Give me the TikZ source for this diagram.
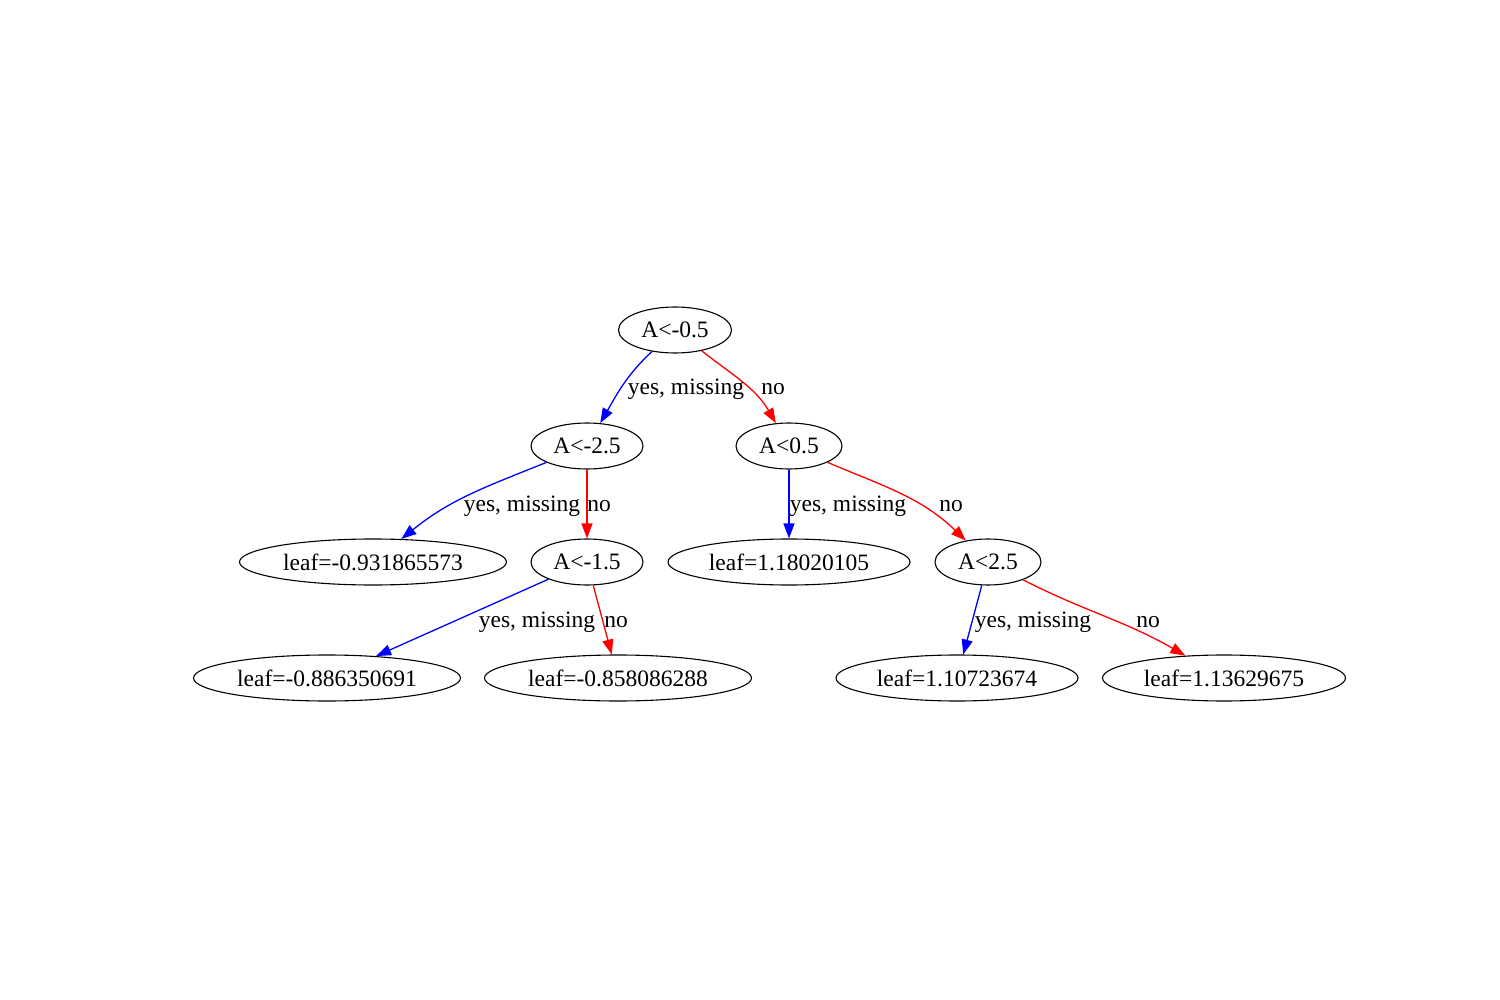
\documentclass[tikz,border=0pt]{standalone}
\usepackage{fontspec}
\setmainfont{Liberation Serif}
\usetikzlibrary{shapes.geometric,arrows.meta}
\begin{document}
\begin{tikzpicture}[x=1pt,y=-1pt,
  tnode/.style={ellipse,draw=black,line width=1.1pt,inner sep=0pt,minimum height=46pt,
    font=\fontsize{23.5}{28}\selectfont},
  lbl/.style={inner sep=0pt,font=\fontsize{23.5}{28}\selectfont},
  yesedge/.style={draw={rgb,255:red,0;green,0;blue,255},line width=1.3pt,
    -{Triangle[length=15pt,width=11pt]}},
  noedge/.style={draw={rgb,255:red,255;green,0;blue,0},line width=1.3pt,
    -{Triangle[length=15pt,width=11pt]}}]
\useasboundingbox (0,0) rectangle (1500,1000);
\fill[white] (0,0) rectangle (1500,1000);
% nodes
\node[tnode,minimum width=113pt] (root) at (675,330) {A<-0.5};
\node[tnode,minimum width=112pt] (a25) at (587,446) {A<-2.5};
\node[tnode,minimum width=106pt] (a05) at (789,446) {A<0.5};
\node[tnode,minimum width=267pt] (l1) at (373,562) {leaf=-0.931865573};
\node[tnode,minimum width=112pt] (a15) at (587,562) {A<-1.5};
\node[tnode,minimum width=242pt] (l2) at (789,562) {leaf=1.18020105};
\node[tnode,minimum width=106pt] (b25) at (988,562) {A<2.5};
\node[tnode,minimum width=267pt] (l3) at (327,678) {leaf=-0.886350691};
\node[tnode,minimum width=267pt] (l4) at (618,678) {leaf=-0.858086288};
\node[tnode,minimum width=242pt] (l5) at (957,678) {leaf=1.10723674};
\node[tnode,minimum width=243pt] (l6) at (1224,678) {leaf=1.13629675};
% edges
\draw[yesedge] (root) to[out=-137,in=60] (a25);
\draw[noedge] (root) to[out=-38,in=120] (a05);
\draw[yesedge] (a25) to[out=-158,in=39] (l1);
\draw[noedge] (a25) -- (a15);
\draw[yesedge] (a05) -- (l2);
\draw[noedge] (a05) to[out=-23,in=136] (b25);
\draw[yesedge] (a15) -- (l3);
\draw[noedge] (a15) -- (l4);
\draw[yesedge] (b25) -- (l5);
\draw[noedge] (b25) to[out=-27,in=150] (l6);
% labels
\node[lbl] (t1) at (686,389) {yes, missing};
\node[lbl] (t2) at (773,389) {no};
\node[lbl] (t3) at (522,506) {yes, missing};
\node[lbl] (t4) at (599,506) {no};
\node[lbl] (t5) at (848,506) {yes, missing};
\node[lbl] (t6) at (951,506) {no};
\node[lbl] (t7) at (537,622) {yes, missing};
\node[lbl] (t8) at (616,622) {no};
\node[lbl] (t9) at (1033,622) {yes, missing};
\node[lbl] (t10) at (1148,622) {no};
\end{tikzpicture}
\end{document}
